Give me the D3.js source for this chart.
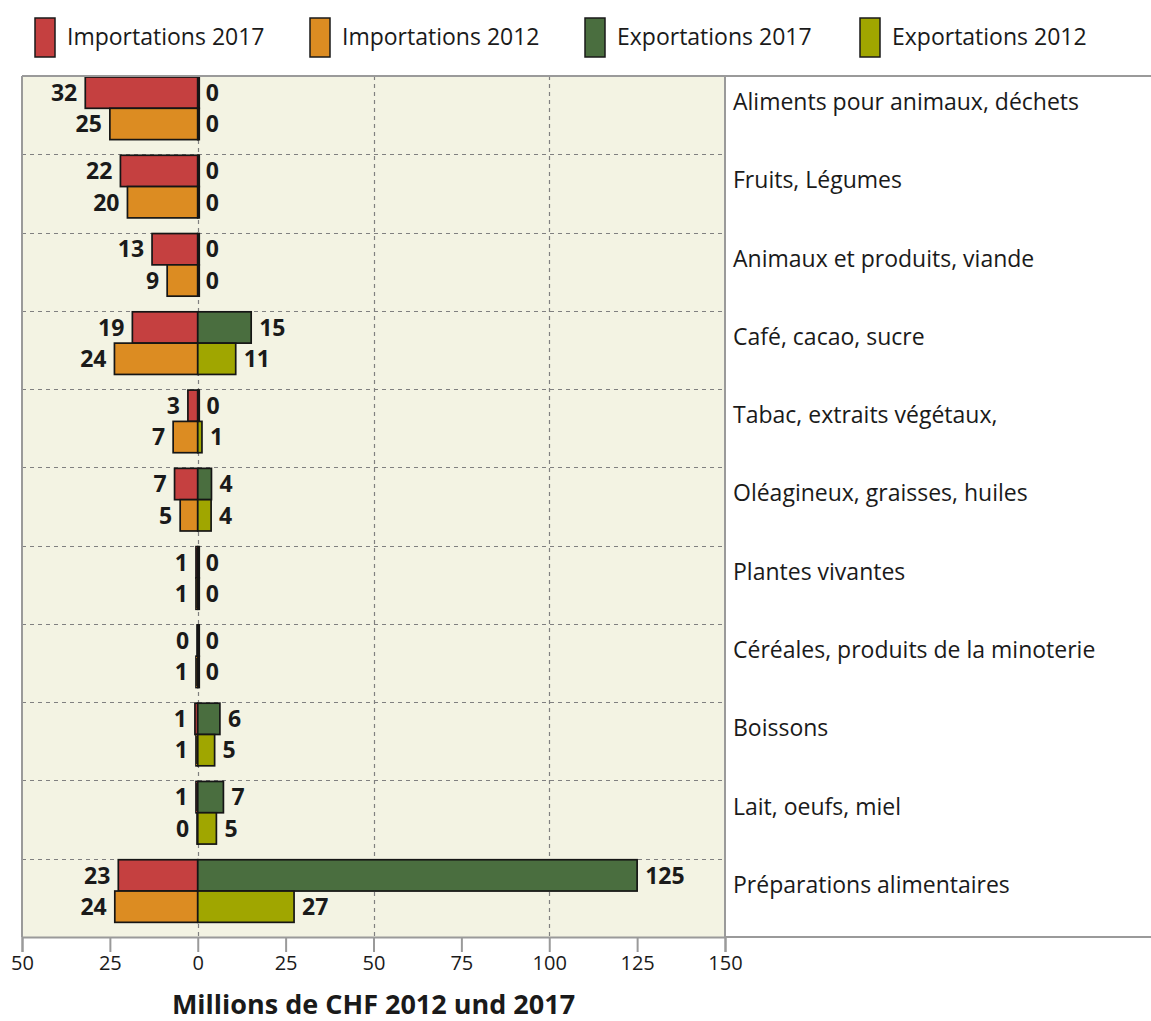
<!DOCTYPE html>
<html>
<head>
<meta charset="utf-8">
<script src="https://cdn.jsdelivr.net/npm/d3@7"></script>
<style>
  body { margin: 0; background: #fff; }
  text { font-family: "Open Sans", sans-serif; fill: #1a1a1a; }
</style>
</head>
<body>
<div id="chart"></div>
<script>
const categories = [
  "Aliments pour animaux, déchets",
  "Fruits, Légumes",
  "Animaux et produits, viande",
  "Café, cacao, sucre",
  "Tabac, extraits végétaux,",
  "Oléagineux, graisses, huiles",
  "Plantes vivantes",
  "Céréales, produits de la minoterie",
  "Boissons",
  "Lait, oeufs, miel",
  "Préparations alimentaires"
];
const imports2017 = [32, 22, 13, 18.6, 2.8, 6.6, 0.5, 0.2, 0.8, 0.5, 22.6];
const imports2012 = [25, 20, 8.7, 23.7, 7, 5, 0.5, 0.5, 0.5, 0.2, 23.6];
const exports2017 = [0, 0, 0, 15.2, 0.2, 3.9, 0, 0, 6.3, 7.3, 125];
const exports2012 = [0, 0, 0, 10.8, 1.2, 3.8, 0, 0, 4.8, 5.3, 27.4];
const legendLabels = ["Importations 2017", "Importations 2012", "Exportations 2017", "Exportations 2012"];
const colors = ["#c54040", "#dc8c22", "#4a6e3f", "#a0a600"];
const tickValues = [-50, -25, 0, 25, 50, 75, 100, 125, 150];
const gridValues = [0, 50, 100];
const axisTitle = "Millions de CHF 2012 und 2017";

const width = 1151, height = 1021;
const plot = {left: 22, right: 725, top: 76, bottom: 937};

const svg = d3.select("#chart").append("svg")
  .attr("width", width).attr("height", height);

const x = d3.scaleLinear().domain([-50, 150]).range([plot.left, plot.right]);
const y = d3.scaleBand().domain(categories).range([plot.top, plot.bottom]);
const bw = y.bandwidth();
const sub = d3.scaleBand().domain(["2017", "2012"]).range([1, 1 + bw * 0.8]);

// legend
const legend = svg.append("g");
const legendX = [35, 310, 585, 860];
legendLabels.forEach((lab, i) => {
  const g = legend.append("g").attr("transform", `translate(${legendX[i]},18)`);
  g.append("rect").attr("width", 20).attr("height", 39)
    .attr("fill", colors[i]).attr("stroke", "#1a1a1a").attr("stroke-width", 1.5);
  g.append("text").attr("x", 32).attr("y", 19).attr("dy", "0.35em")
    .style("font-size", "23px").text(lab);
});

// plot background
svg.append("rect").attr("x", plot.left).attr("y", plot.top)
  .attr("width", plot.right - plot.left).attr("height", plot.bottom - plot.top)
  .attr("fill", "#f3f3e3");

// grid
const grid = svg.append("g").attr("stroke", "#808080").attr("stroke-width", 1.2)
  .attr("stroke-dasharray", "4,4");
grid.selectAll("line.h").data(categories.slice(1)).enter().append("line")
  .attr("x1", plot.left).attr("x2", plot.right)
  .attr("y1", d => Math.round(y(d)) + 0.5).attr("y2", d => Math.round(y(d)) + 0.5);
grid.selectAll("line.v").data(gridValues).enter().append("line")
  .attr("x1", d => Math.round(x(d)) + 0.5).attr("x2", d => Math.round(x(d)) + 0.5)
  .attr("y1", plot.top).attr("y2", plot.bottom);

// bars
const rows = categories.map((c, i) => ({
  cat: c,
  bars: [
    {key: "2017", side: -1, v: imports2017[i], color: colors[0]},
    {key: "2012", side: -1, v: imports2012[i], color: colors[1]},
    {key: "2017", side: 1, v: exports2017[i], color: colors[2]},
    {key: "2012", side: 1, v: exports2012[i], color: colors[3]}
  ]
}));

const row = svg.append("g").selectAll("g").data(rows).enter().append("g")
  .attr("transform", d => `translate(0,${y(d.cat)})`);

row.selectAll("rect").data(d => d.bars).enter().append("rect")
  .attr("x", d => d.side < 0 ? x(-d.v) : x(0))
  .attr("y", d => sub(d.key))
  .attr("width", d => Math.max(1.5, Math.abs(x(d.side * d.v) - x(0))))
  .attr("height", sub.bandwidth())
  .attr("fill", d => d.color)
  .attr("stroke", "#151515").attr("stroke-width", 1.7);

row.selectAll("text.val").data(d => d.bars).enter().append("text")
  .attr("class", "val")
  .attr("x", d => d.side < 0 ? x(-d.v) - 8 : x(d.v) + 8)
  .attr("y", d => sub(d.key) + sub.bandwidth() / 2)
  .attr("dy", "0.36em")
  .attr("text-anchor", d => d.side < 0 ? "end" : "start")
  .style("font-size", "23px").style("font-weight", "bold")
  .text(d => Math.round(d.v));

// category labels
svg.append("g").selectAll("text").data(categories).enter().append("text")
  .attr("x", plot.right + 8)
  .attr("y", d => y(d) + 26)
  .attr("dy", "0.35em")
  .style("font-size", "23px")
  .text(d => d);

// frame lines (label panel open on the right)
const frame = svg.append("g").attr("stroke", "#9a9a9a").attr("stroke-width", 2);
frame.append("line").attr("x1", plot.left).attr("x2", width)
  .attr("y1", plot.top).attr("y2", plot.top);
frame.append("line").attr("x1", plot.left).attr("x2", plot.left)
  .attr("y1", plot.top).attr("y2", plot.bottom);
frame.append("line").attr("x1", plot.right).attr("x2", plot.right)
  .attr("y1", plot.top).attr("y2", plot.bottom);
frame.append("line").attr("x1", plot.right).attr("x2", width)
  .attr("y1", plot.bottom).attr("y2", plot.bottom);

// axis
const axis = svg.append("g").attr("transform", `translate(0,${plot.bottom})`)
  .call(d3.axisBottom(x).tickValues(tickValues).tickFormat(d => Math.abs(d)).tickSize(15).tickPadding(4));
axis.select(".domain").attr("stroke", "#9a9a9a").attr("stroke-width", 2);
axis.selectAll(".tick line").attr("stroke", "#9a9a9a").attr("stroke-width", 2);
axis.selectAll(".tick text").style("font-size", "20px").style("font-family", "'Open Sans', sans-serif").attr("fill", "#1a1a1a");

svg.append("text").attr("x", (plot.left + plot.right) / 2).attr("y", 1014)
  .attr("text-anchor", "middle")
  .style("font-size", "27px").style("font-weight", "bold")
  .text(axisTitle);
</script>
</body>
</html>
